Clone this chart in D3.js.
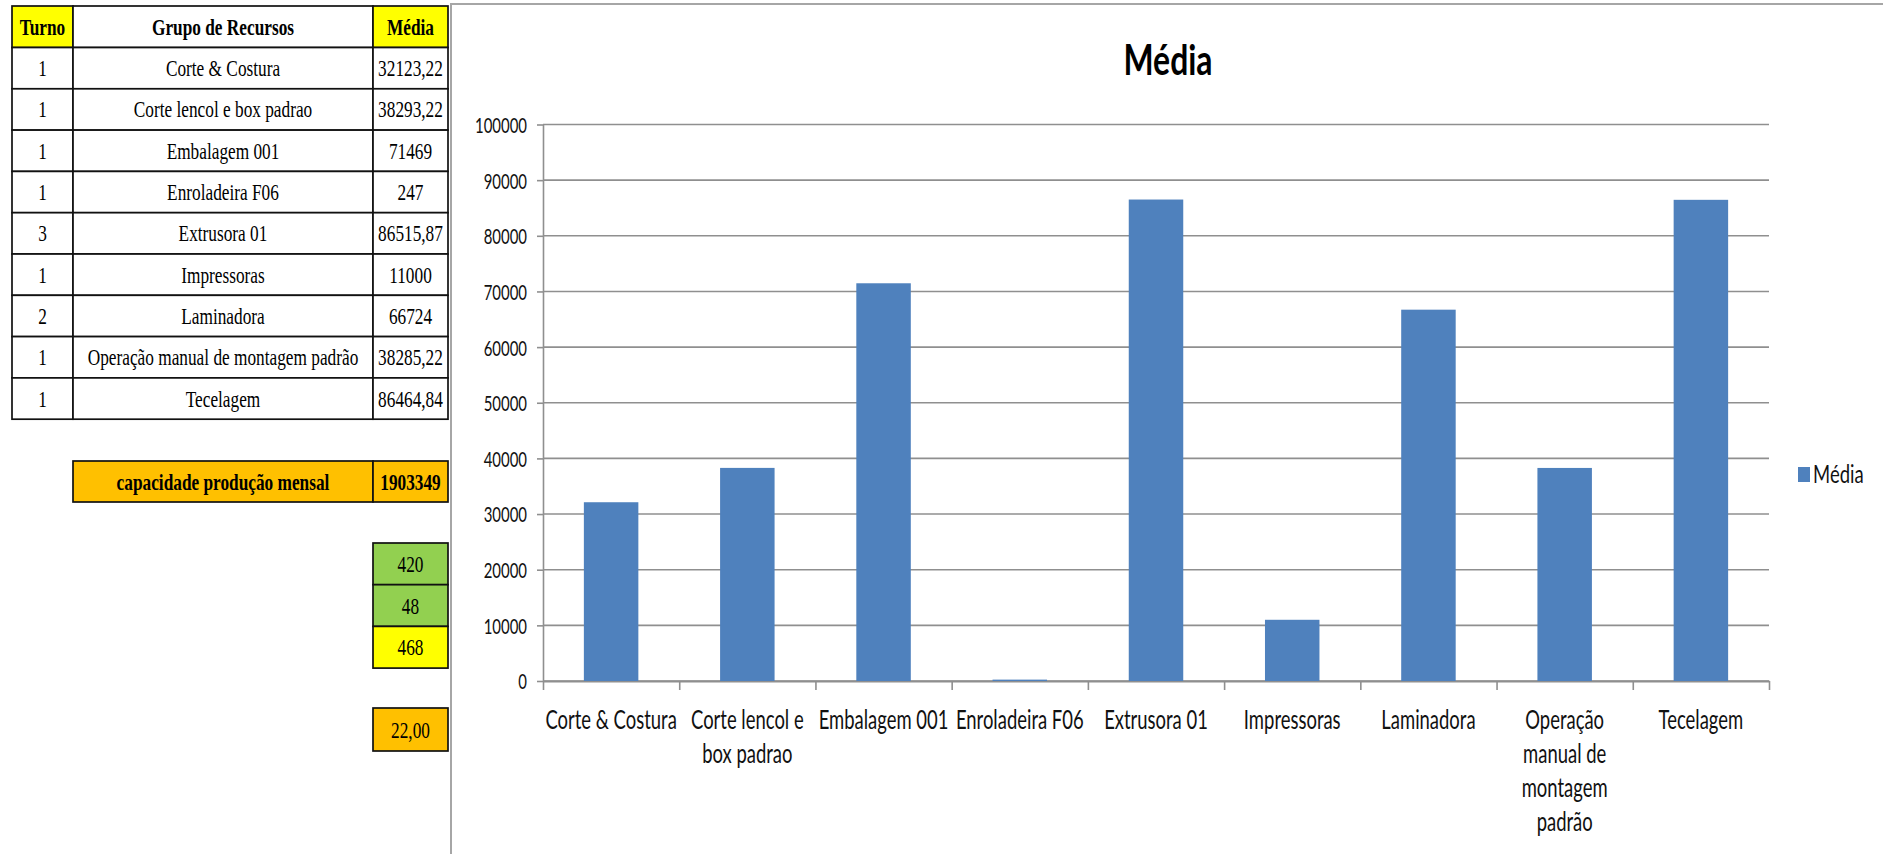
<!DOCTYPE html>
<html><head><meta charset="utf-8">
<script src="https://cdn.jsdelivr.net/npm/d3@7"></script>
<style>body{margin:0;background:#fff;} svg{display:block}</style>
</head><body>
<svg id="c" width="1883" height="854"></svg>
<script>
// ---------- data ----------
const categories = ["Corte & Costura","Corte lencol e box padrao","Embalagem 001","Enroladeira F06","Extrusora 01","Impressoras","Laminadora","Operação manual de montagem padrão","Tecelagem"];
const mediaValues = [32123.22,38293.22,71469,247,86515.87,11000,66724,38285.22,86464.84];
const turnoValues = [1,1,1,1,3,1,2,1,1];
const xTickLabels = [["Corte & Costura"],["Corte lencol e","box padrao"],["Embalagem 001"],["Enroladeira F06"],["Extrusora 01"],["Impressoras"],["Laminadora"],["Operação","manual de","montagem","padrão"],["Tecelagem"]];
const yTicks = [0,10000,20000,30000,40000,50000,60000,70000,80000,90000,100000];
const tableHeaders = ["Turno","Grupo de Recursos","Média"];
const capacidadeLabel = "capacidade produção mensal";
const capacidadeValue = 1903349;
const horasValues = ["420","48","468"];
const diasValue = "22,00";
const seriesName = "Média";
const chartTitle = "Média";

// ---------- helpers ----------
const svg = d3.select("#c");
const SERIF = "'Liberation Serif','Times New Roman',serif";
const SANS = "Lato,'Open Sans',sans-serif";
function txt(g, x, y, s, o) {
  return g.append("text")
    .attr("transform", `translate(${x},${y}) scale(${o.sx},1)`)
    .attr("text-anchor", o.anchor || "middle")
    .style("font-family", o.font)
    .style("font-size", o.size + "px")
    .style("font-weight", o.weight || "normal")
    .attr("fill", o.fill || "#000")
    .text(s);
}
const fmtPt = v => String(v).replace(".", ",");

// ---------- spreadsheet table ----------
const T = svg.append("g");
const colX = [12, 73, 373, 448];
const top0 = 6, headH = 41.5, rowH = 41.3;
const tsx = 0.72, tfs = 24;
function cell(x0, x1, y0, h, fill) {
  T.append("rect").attr("x", x0).attr("y", y0).attr("width", x1 - x0).attr("height", h)
    .attr("fill", fill).attr("stroke", "#111").attr("stroke-width", 1.7);
}
const headFill = ["#FFFF00", "#FFFFFF", "#FFFF00"];
tableHeaders.forEach((h, j) => {
  cell(colX[j], colX[j + 1], top0, headH, headFill[j]);
  txt(T, (colX[j] + colX[j + 1]) / 2, top0 + headH / 2 + 8, h, {sx: tsx, font: SERIF, size: tfs, weight: "bold"});
});
categories.forEach((c, i) => {
  const y0 = top0 + headH + i * rowH;
  const vals = [String(turnoValues[i]), c, fmtPt(mediaValues[i])];
  vals.forEach((v, j) => {
    cell(colX[j], colX[j + 1], y0, rowH, "#FFFFFF");
    txt(T, (colX[j] + colX[j + 1]) / 2, y0 + rowH / 2 + 8, v, {sx: tsx, font: SERIF, size: tfs});
  });
});
// capacidade row
cell(colX[1], colX[2], 461, 41, "#FFC000");
cell(colX[2], colX[3], 461, 41, "#FFC000");
txt(T, (colX[1] + colX[2]) / 2, 461 + 20.5 + 8, capacidadeLabel, {sx: tsx, font: SERIF, size: tfs, weight: "bold"});
txt(T, (colX[2] + colX[3]) / 2, 461 + 20.5 + 8, String(capacidadeValue), {sx: tsx, font: SERIF, size: tfs, weight: "bold"});
// hours cells
const hFill = ["#92D050", "#92D050", "#FFFF00"];
horasValues.forEach((v, i) => {
  const y0 = 543 + i * 41.7;
  cell(colX[2], colX[3], y0, 41.7, hFill[i]);
  txt(T, (colX[2] + colX[3]) / 2, y0 + 20.8 + 8, v, {sx: tsx, font: SERIF, size: tfs});
});
cell(colX[2], colX[3], 708, 43, "#FFC000");
txt(T, (colX[2] + colX[3]) / 2, 708 + 21.5 + 8, diasValue, {sx: tsx, font: SERIF, size: tfs});

// ---------- chart frame ----------
svg.append("line").attr("x1", 450).attr("x2", 1883).attr("y1", 4).attr("y2", 4).attr("stroke", "#a6a6a6").attr("stroke-width", 2);
svg.append("line").attr("x1", 451).attr("x2", 451).attr("y1", 4).attr("y2", 854).attr("stroke", "#a6a6a6").attr("stroke-width", 2);

// ---------- chart ----------
const C = svg.append("g");
const x0 = 543, x1 = 1769;
const y = d3.scaleLinear().domain([0, 100000]).range([681, 124.5]);
const xBand = d3.scaleBand().domain(categories).range([x0, x1]).padding(0);
const xEdge = d3.scaleLinear().domain([0, categories.length]).range([x0, x1]);
const gridCol = "#8f8f8f";
const csx = 0.71;

// gridlines
C.append("g").selectAll("line").data(yTicks).join("line")
  .attr("x1", x0).attr("x2", x1).attr("y1", d => y(d)).attr("y2", d => y(d))
  .attr("stroke", gridCol).attr("stroke-width", 1.6);

// y axis
const yAx = C.append("g").attr("transform", `translate(${x0},0)`)
  .call(d3.axisLeft(y).tickValues(yTicks).tickSize(6).tickSizeOuter(0).tickFormat(d3.format("d")));
yAx.select(".domain").attr("stroke", gridCol).attr("stroke-width", 1.6);
yAx.selectAll(".tick line").attr("stroke", gridCol).attr("stroke-width", 1.6);
yAx.selectAll(".tick text").attr("x", null).attr("dy", "0.36em")
  .attr("transform", `translate(-16,0) scale(0.68,1)`)
  .attr("fill", "#111").style("font-family", SANS).style("font-size", "22px");

// x axis (ticks on category boundaries)
const xAx = C.append("g").attr("transform", `translate(0,${y(0)})`)
  .call(d3.axisBottom(xEdge).tickValues(d3.range(categories.length + 1)).tickSize(9).tickSizeOuter(0).tickFormat(() => ""));
xAx.select(".domain").attr("stroke", gridCol).attr("stroke-width", 1.8);
xAx.selectAll(".tick line").attr("stroke", gridCol).attr("stroke-width", 1.6);

// bars
const barW = xBand.bandwidth() * 0.4;
C.append("g").selectAll("rect").data(mediaValues).join("rect")
  .attr("x", (d, i) => xBand(categories[i]) + (xBand.bandwidth() - barW) / 2)
  .attr("width", barW)
  .attr("y", d => y(d))
  .attr("height", d => y(0) - y(d))
  .attr("fill", "#4F81BD");

// category labels
categories.forEach((c, i) => {
  const cx = xBand(c) + xBand.bandwidth() / 2;
  xTickLabels[i].forEach((line, k) => {
    txt(C, cx, 729 + k * 34, line, {sx: csx, font: SANS, size: 26, fill: "#111"});
  });
});

// title
txt(C, 1168, 75, chartTitle, {sx: 0.76, font: SANS, size: 42, weight: "bold"});

// legend
C.append("rect").attr("x", 1798).attr("y", 467).attr("width", 12).attr("height", 15).attr("fill", "#4F81BD");
txt(C, 1813, 483, seriesName, {sx: 0.74, font: SANS, size: 25, anchor: "start", fill: "#111"});
</script>
</body></html>
